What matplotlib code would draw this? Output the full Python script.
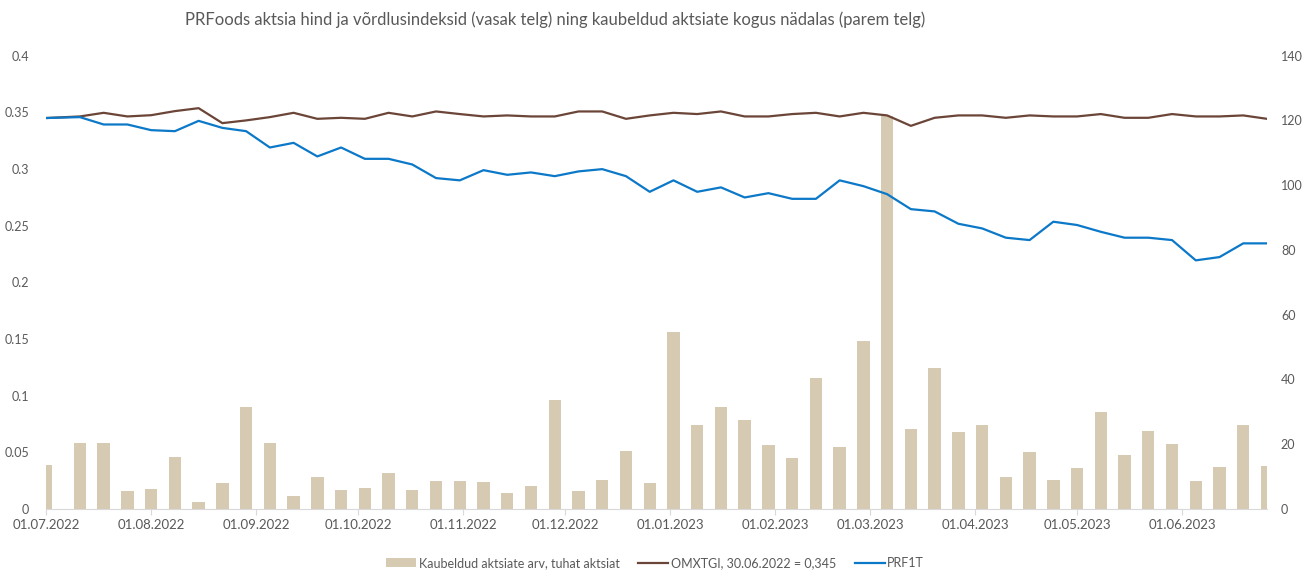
import matplotlib
matplotlib.use("Agg")
import matplotlib.pyplot as plt
import matplotlib.dates as mdates
import numpy as np
import pandas as pd

plt.rcParams['font.family'] = ['Lato', 'DejaVu Sans']

# ---- data ----
first_date = "2022-07-01"
weekly_start = "2022-07-11"
dates = pd.DatetimeIndex([pd.Timestamp(first_date)]).append(
    pd.date_range(weekly_start, "2023-06-26", freq="7D"))

volume = [13.6, 20.3, 20.3, 5.5, 6.2, 16.1, 2.3, 7.9, 31.6, 20.3,
          4.0, 9.8, 5.8, 6.5, 11.1, 5.8, 8.6, 8.6, 8.2, 5.0,
          7.2, 33.8, 5.5, 9.0, 17.8, 7.9, 54.7, 25.9, 31.6, 27.4,
          19.7, 15.7, 40.5, 19.2, 51.9, 121.5, 24.6, 43.6, 23.9, 25.9,
          9.8, 17.5, 9.0, 12.6, 29.9, 16.8, 24.2, 20.0, 8.6, 13.0,
          25.9, 13.3]

omxtgi = [0.345, 0.3464, 0.3496, 0.3464, 0.3475, 0.3511, 0.3537, 0.3405, 0.3429, 0.3458,
          0.3496, 0.3443, 0.3452, 0.3443, 0.3496, 0.3464, 0.3508, 0.3485, 0.3464, 0.3473,
          0.3464, 0.3464, 0.3508, 0.3508, 0.3443, 0.3473, 0.3496, 0.3485, 0.3508, 0.3464,
          0.3464, 0.3485, 0.3496, 0.3464, 0.3496, 0.3473, 0.3381, 0.3452, 0.3473, 0.3473,
          0.3452, 0.3473, 0.3464, 0.3464, 0.3485, 0.3452, 0.3452, 0.3485, 0.3464, 0.3464,
          0.3473, 0.3443]

prf1t = [0.345, 0.3458, 0.3393, 0.3393, 0.3343, 0.3334, 0.3425, 0.3363, 0.3334, 0.3190,
         0.3231, 0.3111, 0.3190, 0.3090, 0.3090, 0.3040, 0.2920, 0.2900, 0.2990, 0.2949,
         0.2970, 0.2937, 0.2979, 0.2999, 0.2937, 0.2799, 0.2900, 0.2799, 0.2838, 0.2749,
         0.2787, 0.2737, 0.2737, 0.2900, 0.2849, 0.2778, 0.2646, 0.2626, 0.2517, 0.2476,
         0.2394, 0.2373, 0.2535, 0.2506, 0.2446, 0.2394, 0.2394, 0.2373, 0.2194, 0.2223,
         0.2344, 0.2344]

left_ticks = [0, 0.05, 0.1, 0.15, 0.2, 0.25, 0.3, 0.35, 0.4]
left_labels = ["0", "0.05", "0.1", "0.15", "0.2", "0.25", "0.3", "0.35", "0.4"]
right_ticks = [0, 20, 40, 60, 80, 100, 120, 140]

title = "PRFoods aktsia hind ja võrdlusindeksid (vasak telg) ning kaubeldud aktsiate kogus nädalas (parem telg)"
lbl_vol = "Kaubeldud aktsiate arv, tuhat aktsiat"
lbl_omx = "OMXTGI, 30.06.2022 = 0,345"
lbl_prf = "PRF1T"

# ---- styling ----
bar_color = "#D6CAB3"
brown = "#6B4537"
blue = "#0C78C8"
tick_color = "#595959"

fig = plt.figure(figsize=(13.03, 5.71), dpi=100)
ax1 = fig.add_axes([46/1303, 1-509/571, (1267-46)/1303, (509-55.7)/571])
ax2 = ax1.twinx()

ax2.bar(dates, volume, width=3.65, color=bar_color, label=lbl_vol, zorder=1)
ax1.plot(dates, omxtgi, color=brown, lw=1.6, label=lbl_omx, zorder=3)
ax1.plot(dates, prf1t, color=blue, lw=1.6, label=lbl_prf, zorder=3)

ax1.set_zorder(ax2.get_zorder() + 1)
ax1.patch.set_visible(False)

ax1.set_xlim(dates[0], dates[-1])
ax1.set_ylim(0, 0.4)
ax2.set_ylim(0, 140)
ax1.set_yticks(left_ticks)
ax1.set_yticklabels(left_labels)
ax2.set_yticks(right_ticks)

ax1.xaxis.set_major_locator(mdates.MonthLocator(bymonthday=1))
ax1.xaxis.set_major_formatter(mdates.DateFormatter("%d.%m.%Y"))

for ax in (ax1, ax2):
    for s in ax.spines.values():
        s.set_visible(False)
    ax.tick_params(axis='y', length=0, labelsize=9, colors=tick_color)
ax1.tick_params(axis='y', pad=12)
ax2.tick_params(axis='y', pad=10)
ax1.spines['bottom'].set_visible(True)
ax1.spines['bottom'].set_color("#D9D9D9")
ax1.tick_params(axis='x', length=4, color="#D9D9D9", labelsize=9.5, labelcolor=tick_color, pad=3)

fig.text(555/1303, 1-20/571, title, ha='center', va='center', fontsize=12, color="#595959")

h2, l2 = ax2.get_legend_handles_labels()
h1, l1 = ax1.get_legend_handles_labels()
leg = fig.legend(h2 + h1, l2 + l1, loc='center', bbox_to_anchor=(655/1303, 1-563/571),
                 ncol=3, frameon=False, fontsize=9, handlelength=2.4, handletextpad=0.2,
                 columnspacing=1.5)
for t in leg.get_texts():
    t.set_color(tick_color)

fig.savefig("out.png", dpi=100)
